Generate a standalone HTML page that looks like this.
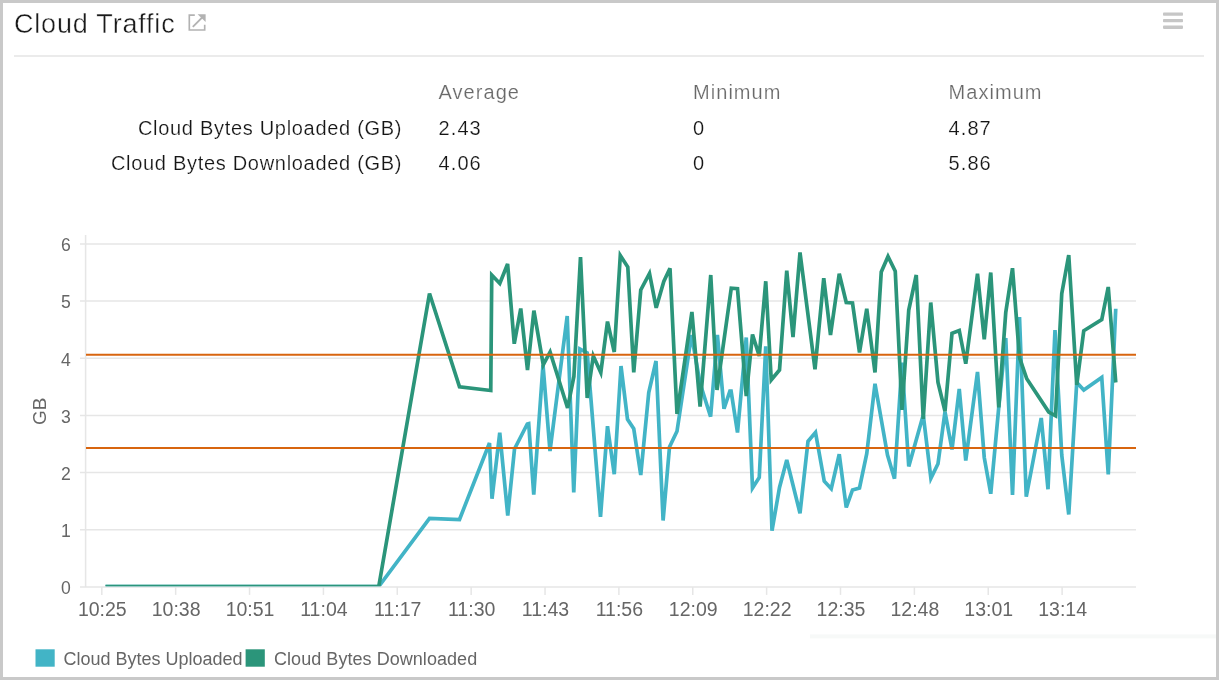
<!DOCTYPE html>
<html><head><meta charset="utf-8"><title>Cloud Traffic</title>
<style>
html,body{margin:0;padding:0;background:#fff;}
body{width:1219px;height:680px;overflow:hidden;position:relative;font-family:"Liberation Sans",sans-serif;}
#frame{position:absolute;left:0;top:0;width:1213px;height:674px;border:3px solid #c9c9c9;}
#title{position:absolute;left:14px;top:7px;font-size:27px;letter-spacing:0.8px;color:#1a1a1a;-webkit-text-stroke:0.4px #fff;line-height:34px;white-space:nowrap;}
#rule{position:absolute;left:14px;top:55px;width:1190px;height:2px;background:#ebebeb;}
.t{position:absolute;font-size:20px;letter-spacing:1.1px;line-height:24px;white-space:nowrap;color:#151515;-webkit-text-stroke:0.2px #fff;}
.h{color:#696969;letter-spacing:1.05px;}
.r{text-align:right;width:400px;left:2.2px;letter-spacing:0.7px;}
svg{position:absolute;left:0;top:0;}
svg text{font-family:"Liberation Sans",sans-serif;font-size:18px;fill:#666;}
svg text.tk{font-size:19.5px;}
svg text.ty{font-size:17.6px;}
</style></head><body>
<div id="frame"></div>
<div id="title">Cloud Traffic</div>
<div id="rule"></div>
<div class="t h" style="left:438.5px;top:80px">Average</div>
<div class="t h" style="left:693px;top:80px">Minimum</div>
<div class="t h" style="left:948.5px;top:80px">Maximum</div>
<div class="t r" style="top:116px">Cloud Bytes Uploaded (GB)</div>
<div class="t" style="left:438.5px;top:116px">2.43</div>
<div class="t" style="left:693px;top:116px">0</div>
<div class="t" style="left:948.5px;top:116px">4.87</div>
<div class="t r" style="top:151px">Cloud Bytes Downloaded (GB)</div>
<div class="t" style="left:438.5px;top:151px">4.06</div>
<div class="t" style="left:693px;top:151px">0</div>
<div class="t" style="left:948.5px;top:151px">5.86</div>
<svg width="1219" height="680" viewBox="0 0 1219 680">
<defs><clipPath id="cp"><rect x="86" y="236" width="1050" height="350.2"/></clipPath></defs>
<!-- header icons -->
<g fill="none" stroke="#b2b2b2" stroke-width="1.65">
<path d="M194.8 15.1H189.3V30H204.7V24.8"/>
<path d="M192.8 26.8L203 16.6" stroke-width="1.9"/>
</g>
<path d="M197.6 14.2H205.6V22Z" fill="#b2b2b2"/>
<g fill="#c6c6c6"><rect x="1163" y="12.4" width="20" height="3.3" rx="0.8"/><rect x="1163" y="19" width="20" height="3.3" rx="0.8"/><rect x="1163" y="25.6" width="20" height="3.3" rx="0.8"/></g>
<rect x="810" y="634.4" width="406" height="4" fill="#f7f9f8"/>
<!-- grid -->
<line x1="80" x2="1136" y1="586.90" y2="586.90" stroke="#e6e6e6" stroke-width="1.5"/>
<line x1="80" x2="1136" y1="529.73" y2="529.73" stroke="#e6e6e6" stroke-width="1.5"/>
<line x1="80" x2="1136" y1="472.56" y2="472.56" stroke="#e6e6e6" stroke-width="1.5"/>
<line x1="80" x2="1136" y1="415.39" y2="415.39" stroke="#e6e6e6" stroke-width="1.5"/>
<line x1="80" x2="1136" y1="358.22" y2="358.22" stroke="#e6e6e6" stroke-width="1.5"/>
<line x1="80" x2="1136" y1="301.05" y2="301.05" stroke="#e6e6e6" stroke-width="1.5"/>
<line x1="80" x2="1136" y1="243.88" y2="243.88" stroke="#e6e6e6" stroke-width="1.5"/>
<line x1="85.6" x2="85.6" y1="235" y2="586.90" stroke="#e6e6e6" stroke-width="1.5"/>
<line x1="101.80" x2="101.80" y1="586.90" y2="594.90" stroke="#e6e6e6" stroke-width="1.5"/>
<line x1="175.67" x2="175.67" y1="586.90" y2="594.90" stroke="#e6e6e6" stroke-width="1.5"/>
<line x1="249.54" x2="249.54" y1="586.90" y2="594.90" stroke="#e6e6e6" stroke-width="1.5"/>
<line x1="323.41" x2="323.41" y1="586.90" y2="594.90" stroke="#e6e6e6" stroke-width="1.5"/>
<line x1="397.28" x2="397.28" y1="586.90" y2="594.90" stroke="#e6e6e6" stroke-width="1.5"/>
<line x1="471.15" x2="471.15" y1="586.90" y2="594.90" stroke="#e6e6e6" stroke-width="1.5"/>
<line x1="545.02" x2="545.02" y1="586.90" y2="594.90" stroke="#e6e6e6" stroke-width="1.5"/>
<line x1="618.89" x2="618.89" y1="586.90" y2="594.90" stroke="#e6e6e6" stroke-width="1.5"/>
<line x1="692.76" x2="692.76" y1="586.90" y2="594.90" stroke="#e6e6e6" stroke-width="1.5"/>
<line x1="766.63" x2="766.63" y1="586.90" y2="594.90" stroke="#e6e6e6" stroke-width="1.5"/>
<line x1="840.50" x2="840.50" y1="586.90" y2="594.90" stroke="#e6e6e6" stroke-width="1.5"/>
<line x1="914.37" x2="914.37" y1="586.90" y2="594.90" stroke="#e6e6e6" stroke-width="1.5"/>
<line x1="988.24" x2="988.24" y1="586.90" y2="594.90" stroke="#e6e6e6" stroke-width="1.5"/>
<line x1="1062.11" x2="1062.11" y1="586.90" y2="594.90" stroke="#e6e6e6" stroke-width="1.5"/>

<g clip-path="url(#cp)" fill="none" stroke-width="3.7" stroke-linejoin="miter">
<polyline stroke="#42b4c6" points="105.5,586.5 378.75,586.5 429.5,518.4 459.5,519.5 489.5,443 492,498.75 499.75,432.7 507.75,515.5 514.5,449 527.3,424 528.7,423.6 533.75,494.5 543,365 550,451 567.2,316 573.75,492.5 579.9,349 587.2,353 600.5,516.75 607.5,426.25 614.25,474.25 621,366 627.5,419.25 633.75,428.75 640.75,475 648.75,392.5 656,361 663.1,520.5 669.5,447 677,431.25 691.5,335 700,383 710.6,416.7 717.4,335 724,408.75 729.9,391.2 731.1,391.2 737.5,432.5 746.25,337.5 752.5,488 759.25,477.5 765.75,346.25 772,530.75 779.5,487.5 786.75,460 800,513.25 808,441.25 815.5,432.5 824.25,481.25 831.25,488.75 839.25,454.25 846.25,507.5 852.5,490 859.5,488 866.75,453.75 875,383.75 887.5,455 894.5,478.75 902,362.5 908.75,466.5 923.25,415 930.9,478.3 938,463.75 945,411.8 952,449.5 959.25,389 965.75,460.5 977.5,372 984.25,457.5 990.75,493.75 998.75,407.5 1005.75,338 1012.5,495 1019.5,317 1026.25,496.75 1041.25,418 1048,489.25 1055,330 1061.75,455 1068.75,514.5 1076.75,382.5 1083.75,390 1101.75,377.5 1108.25,474.5 1115.75,308.75"/>
<polyline stroke="#2b957a" points="105.5,586.5 378.75,586.5 429.5,293.5 459.5,386.75 490.75,390.5 491.75,275 499.8,283.5 507.6,264 514.25,343.75 520.75,308.5 527.5,370 533.9,310.6 543.25,364.9 550.1,352 567.6,408 573.9,376.4 580.5,257 587.2,398 593.3,356 600.8,372.5 607.5,321.6 614.25,352 620.3,255.5 627.8,267 633.75,372.3 640.75,290 649.5,273.5 656.2,307.8 663.8,281.5 670,268.25 677,414 691.9,312 700.1,406.5 710.75,275 717,390 731.25,288.25 737.5,288.75 746.25,396 752.5,334.5 759.25,356 765.75,281.25 771.25,380 779.5,370 786.75,270.75 793,337 800,252.5 815,369.25 823.75,278.25 830.5,335 839.25,273.75 846.25,302.5 852.5,303 859.5,352.5 866.75,308.75 875,372.5 881.25,272 888,256.5 895.25,271.25 902,409.8 908.75,310 916.25,275 923.25,418.8 930.75,302.5 938,382.5 945,411.3 952,333.25 959.25,330.5 965.75,363.75 977.5,273.75 984.25,339.25 990.75,272.5 998.75,407.4 1005.75,312.5 1012.5,268.25 1019.5,357.5 1026.75,378.75 1048.75,412 1055.5,415.75 1061.75,293.75 1068.75,255 1076.75,385 1083.75,330.75 1101.75,319.5 1108.25,287 1115.75,382.5"/>
</g>
<line x1="86" x2="1136" y1="354.79" y2="354.79" stroke="#d8650f" stroke-width="2"/>
<line x1="86" x2="1136" y1="447.98" y2="447.98" stroke="#d8650f" stroke-width="2"/>
<text class="ty" x="70.8" y="594.30" text-anchor="end">0</text>
<text class="ty" x="70.8" y="537.13" text-anchor="end">1</text>
<text class="ty" x="70.8" y="479.96" text-anchor="end">2</text>
<text class="ty" x="70.8" y="422.79" text-anchor="end">3</text>
<text class="ty" x="70.8" y="365.62" text-anchor="end">4</text>
<text class="ty" x="70.8" y="308.45" text-anchor="end">5</text>
<text class="ty" x="70.8" y="251.28" text-anchor="end">6</text>
<text class="tk" x="102.30" y="616" text-anchor="middle">10:25</text>
<text class="tk" x="176.17" y="616" text-anchor="middle">10:38</text>
<text class="tk" x="250.04" y="616" text-anchor="middle">10:51</text>
<text class="tk" x="323.91" y="616" text-anchor="middle">11:04</text>
<text class="tk" x="397.78" y="616" text-anchor="middle">11:17</text>
<text class="tk" x="471.65" y="616" text-anchor="middle">11:30</text>
<text class="tk" x="545.52" y="616" text-anchor="middle">11:43</text>
<text class="tk" x="619.39" y="616" text-anchor="middle">11:56</text>
<text class="tk" x="693.26" y="616" text-anchor="middle">12:09</text>
<text class="tk" x="767.13" y="616" text-anchor="middle">12:22</text>
<text class="tk" x="841.00" y="616" text-anchor="middle">12:35</text>
<text class="tk" x="914.87" y="616" text-anchor="middle">12:48</text>
<text class="tk" x="988.74" y="616" text-anchor="middle">13:01</text>
<text class="tk" x="1062.61" y="616" text-anchor="middle">13:14</text>

<text transform="translate(46.3,411.3) rotate(-90)" text-anchor="middle" style="font-size:19px">GB</text>
<rect x="35.5" y="649.3" width="19.2" height="17.4" fill="#42b4c6"/>
<text x="63.5" y="664.5">Cloud Bytes Uploaded</text>
<rect x="245.6" y="649.3" width="19.2" height="17.4" fill="#2b957a"/>
<text x="274" y="664.5" style="letter-spacing:0.05px">Cloud Bytes Downloaded</text>
</svg>
</body></html>
